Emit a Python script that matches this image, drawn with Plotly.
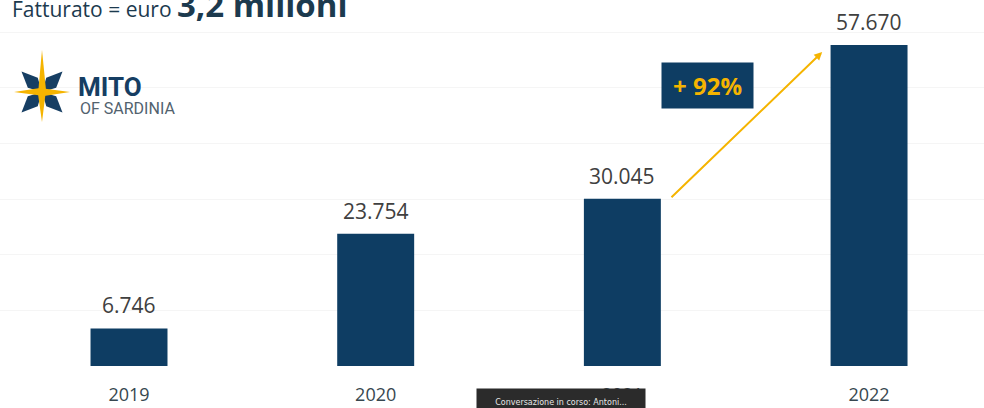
import math
import plotly.graph_objects as go

# ---- data ----
years = ["2019", "2020", "2021", "2022"]
revenue = [6746, 23754, 30045, 57670]
title_plain = "Fatturato = euro "
title_bold = "3,2 milioni"

NAVY = "#0e3d63"
YELLOW = "#f5b400"

W, H = 984, 408
ML, MR, MT, MB = 0, 0, 0, 42
PH = H - MT - MB


def px(x):
    return x / W


def py(y):
    return (PH + MT - y) / PH


def fmt(v):
    return f"{v:,}".replace(",", ".")


fig = go.Figure()
fig.add_trace(go.Bar(
    x=years, y=revenue, width=0.312, marker=dict(color=NAVY, line=dict(width=0)),
    hoverinfo="skip", showlegend=False,
))

ann = []
for i, v in enumerate(revenue):
    ann.append(dict(x=i, y=v, xref="x", yref="y", text=fmt(v), showarrow=False,
                    xanchor="center", yanchor="bottom", yshift=7,
                    font=dict(family="Open Sans", size=21, color="#404040")))

# growth arrow from 2021 bar to 2022 bar
growth = round((revenue[3] / revenue[2] - 1) * 100)
ann.append(dict(x=2.81, y=revenue[3] * 0.978, xref="x", yref="y",
                ax=2.193, ay=revenue[2], axref="x", ayref="y",
                showarrow=True, arrowhead=2, arrowsize=0.8, arrowwidth=2,
                arrowcolor=YELLOW, text=""))
ann.append(dict(x=px(707), y=py(85), xref="paper", yref="paper", text=f"<b>+ {growth}%</b>",
                xanchor="center", yanchor="middle",
                showarrow=False, bgcolor=NAVY, width=91, height=45, borderpad=0,
                font=dict(family="Open Sans", size=24, color=YELLOW)))

# title
ann.append(dict(x=px(10), y=py(29), xref="paper", yref="paper", xanchor="left", yanchor="bottom",
                text=f"{title_plain}<span style='font-size:33px'><b>{title_bold}</b></span>",
                showarrow=False, font=dict(family="Open Sans", size=21, color="#1c3a4e")))

# logo text
ann.append(dict(x=px(76), y=py(87), xref="paper", yref="paper", xanchor="left", yanchor="middle",
                text="<b>MITO</b>", showarrow=False,
                font=dict(family="Liberation Sans Narrow, Roboto", size=26, color="#163e63")))
ann.append(dict(x=px(78), y=py(108), xref="paper", yref="paper", xanchor="left", yanchor="middle",
                text="OF SARDINIA", showarrow=False,
                font=dict(family="Liberation Sans Narrow, Roboto", size=16, color="#52626e")))

# tooltip overlay
ann.append(dict(x=px(561), y=py(388), xref="paper", yref="paper", xanchor="center", yanchor="top",
                text="Conversazione in corso: Antoni...", showarrow=False,
                bgcolor="#2b2b2b", width=168, height=26, borderpad=0, valign="middle",
                font=dict(family="DejaVu Sans", size=8, color="#e6e6e6")))

# logo star shapes
shapes = []


def poly(points, color):
    d = "M " + " L ".join(f"{px(x):.5f},{py(y):.5f}" for x, y in points) + " Z"
    return dict(type="path", path=d, xref="paper", yref="paper", fillcolor=color,
                line=dict(width=0), layer="above")


cx, cy = 42, 92
for ang in (45, 135, 225, 315):
    r = 29
    a = math.radians(ang)
    tx, ty = cx + r * math.cos(a), cy - r * math.sin(a)
    mx, my = cx + 0.45 * r * math.cos(a), cy - 0.45 * r * math.sin(a)
    nx, ny = -math.sin(a) * 7, -math.cos(a) * 7
    shapes.append(poly([(cx, cy), (mx + nx, my + ny), (tx, ty), (mx - nx, my - ny)], "#163e63"))
shapes.append(poly([(42, 50), (46, 90), (42, 122), (38, 94)], YELLOW))
shapes.append(poly([(14, 92), (40, 88), (70, 92), (44, 96)], YELLOW))

fig.update_layout(
    width=W, height=H, margin=dict(l=ML, r=MR, t=MT, b=MB),
    paper_bgcolor="white", plot_bgcolor="white",
    xaxis=dict(type="category", range=[-0.523, 3.466], showgrid=False, zeroline=False,
               showline=False, ticks="outside", ticklen=12, tickcolor="rgba(0,0,0,0)",
               tickfont=dict(family="Open Sans", size=18, color="#37474f")),
    yaxis=dict(range=[0, 65756], dtick=10000, showgrid=True, gridcolor="#f5f5f5",
               zeroline=False, showticklabels=False, showline=False),
    annotations=ann, shapes=shapes, bargap=0.7,
)

fig.write_html("out.html")
